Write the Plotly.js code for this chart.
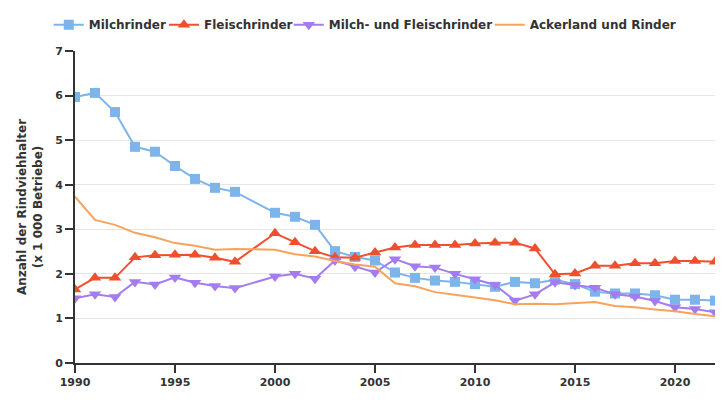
<!DOCTYPE html>
<html>
<head>
<meta charset="utf-8">
<script src="https://cdn.plot.ly/plotly-3.0.1.min.js"></script>
<style>
  html, body { margin: 0; padding: 0; background: #fff; }
  #chart { width: 725px; height: 400px; }
</style>
</head>
<body>
<div id="chart"></div>
<script>
// Jahre (1999 fehlt in den Daten)
const years = [1990, 1991, 1992, 1993, 1994, 1995, 1996, 1997, 1998,
  2000, 2001, 2002, 2003, 2004, 2005, 2006, 2007, 2008, 2009, 2010,
  2011, 2012, 2013, 2014, 2015, 2016, 2017, 2018, 2019, 2020, 2021, 2022];

const milchrinder = [5.97, 6.06, 5.63, 4.85, 4.74, 4.42, 4.13, 3.93, 3.84,
  3.37, 3.28, 3.10, 2.51, 2.38, 2.30, 2.03, 1.91, 1.85, 1.82, 1.77,
  1.71, 1.82, 1.79, 1.87, 1.77, 1.60, 1.56, 1.56, 1.52, 1.42, 1.42, 1.40];

const fleischrinder = [1.65, 1.91, 1.91, 2.37, 2.42, 2.43, 2.43, 2.36, 2.27,
  2.91, 2.71, 2.51, 2.37, 2.36, 2.48, 2.59, 2.65, 2.65, 2.65, 2.68,
  2.70, 2.70, 2.57, 1.99, 2.01, 2.18, 2.18, 2.24, 2.24, 2.29, 2.29, 2.27];

const milchFleisch = [1.45, 1.54, 1.48, 1.82, 1.76, 1.92, 1.80, 1.73, 1.68,
  1.94, 2.00, 1.89, 2.30, 2.16, 2.03, 2.33, 2.17, 2.14, 2.00, 1.88,
  1.75, 1.40, 1.54, 1.81, 1.75, 1.69, 1.54, 1.49, 1.39, 1.25, 1.21, 1.14];

const ackerland = [3.73, 3.21, 3.10, 2.92, 2.82, 2.69, 2.63, 2.54, 2.56,
  2.54, 2.44, 2.39, 2.29, 2.21, 2.16, 1.79, 1.72, 1.59, 1.53, 1.47,
  1.41, 1.32, 1.33, 1.32, 1.34, 1.37, 1.28, 1.25, 1.20, 1.16, 1.10, 1.05];

const fontFam = "'DejaVu Sans', sans-serif";
const boldFont = (size) => ({ family: fontFam, size: size, color: "#333", weight: "bold" });

const traces = [
  {
    x: years, y: milchrinder, name: "Milchrinder", legend: "legend",
    type: "scatter", mode: "lines+markers",
    line: { color: "#7cb5ec", width: 2 },
    marker: { symbol: "square", size: 10, color: "#7cb5ec" },
  },
  {
    x: years, y: fleischrinder, name: "Fleischrinder", legend: "legend2",
    type: "scatter", mode: "lines+markers",
    line: { color: "#f04f2d", width: 2 },
    marker: { symbol: "triangle-up", size: 11, color: "#f04f2d" },
  },
  {
    x: years, y: milchFleisch, name: "Milch- und Fleischrinder", legend: "legend3",
    type: "scatter", mode: "lines+markers",
    line: { color: "#a47cf0", width: 2 },
    marker: { symbol: "triangle-down", size: 11, color: "#a47cf0" },
  },
  {
    x: years, y: ackerland, name: "Ackerland und Rinder", legend: "legend4",
    type: "scatter", mode: "lines",
    line: { color: "#f7a35c", width: 2 },
  },
];

// eine Legende pro Serie, damit die Abstände wie im Original sind
function legendAt(x) {
  return {
    orientation: "h",
    x: x, xanchor: "left",
    y: 1.084, yanchor: "middle",
    itemwidth: 30,
    bgcolor: "rgba(0,0,0,0)",
    font: boldFont(12),
  };
}

const layout = {
  width: 725,
  height: 400,
  margin: { l: 75, r: 10, t: 51, b: 37 },
  paper_bgcolor: "#fff",
  plot_bgcolor: "#fff",
  font: { family: fontFam, color: "#333", size: 11 },
  showlegend: true,
  legend: legendAt(-0.041),
  legend2: legendAt(0.139),
  legend3: legendAt(0.334),
  legend4: legendAt(0.648),
  xaxis: {
    range: [1990, 2022],
    tickvals: [1990, 1995, 2000, 2005, 2010, 2015, 2020],
    showgrid: false,
    zeroline: false,
    showline: true, linecolor: "#333", linewidth: 2,
    ticks: "outside", ticklen: 8, tickcolor: "#333", tickwidth: 2,
    tickfont: boldFont(11),
  },
  yaxis: {
    range: [0, 7],
    dtick: 1,
    showgrid: true, gridcolor: "#e6e6e6", gridwidth: 1,
    zeroline: false,
    showline: true, linecolor: "#333", linewidth: 2,
    ticks: "outside", ticklen: 8, tickcolor: "#333", tickwidth: 2,
    tickfont: boldFont(11),
    title: {
      text: "Anzahl der Rindviehhalter<br>(x 1 000 Betriebe)",
      font: boldFont(12),
      standoff: 10,
    },
  },
};

Plotly.newPlot("chart", traces, layout, { displayModeBar: false, staticPlot: true });
</script>
</body>
</html>
